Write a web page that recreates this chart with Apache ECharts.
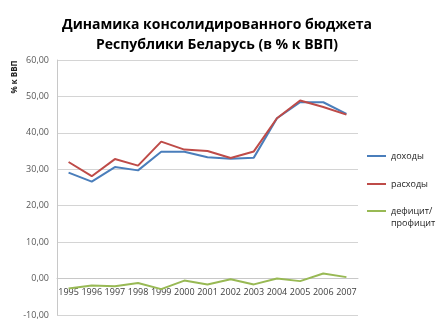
<!DOCTYPE html>
<html><head><meta charset="utf-8">
<script src="https://cdn.jsdelivr.net/npm/echarts@6/dist/echarts.min.js"></script>
<style>html,body{margin:0;padding:0;background:#fff}#c{width:441px;height:326px}</style>
</head><body><div id="c"></div>
<script>
const years = ['1995','1996','1997','1998','1999','2000','2001','2002','2003','2004','2005','2006','2007'];
const revenue = [29.1,26.6,30.6,29.7,34.8,34.8,33.3,32.9,33.2,44.0,48.4,48.4,45.2];
const expenses = [32.0,28.1,32.8,31.0,37.6,35.4,35.0,33.1,34.9,44.0,48.9,47.1,45.0];
const balance = [-2.75,-1.9,-2.1,-1.2,-2.9,-0.55,-1.6,-0.2,-1.6,0.0,-0.7,1.4,0.4];
const yTicks = [-10,0,10,20,30,40,50,60];
const seriesNames = ['доходы','расходы','дефицит/профицит'];

const font = 'Open Sans';
const H = 326, gridTop = 60, gridBottom = 11;
const yMin = yTicks[0], yMax = yTicks[yTicks.length-1];
const plotH = H - gridTop - gridBottom;
const zeroOffset = -plotH * (0 - yMin) / (yMax - yMin);

const chart = echarts.init(document.getElementById('c'), null, {renderer:'canvas'});
chart.setOption({
  animation:false,
  backgroundColor:'#fff',
  title:{
    text:'Динамика консолидированного бюджета\nРеспублики Беларусь (в % к ВВП)',
    left:212, top:10, textAlign:'center',
    textStyle:{fontFamily:font, fontSize:14, fontWeight:'bold', color:'#000', lineHeight:20}
  },
  graphic:[{
    type:'text', x:15, y:77, rotation:Math.PI/2,
    style:{text:'% к ВВП', fontFamily:font, fontSize:8, fontWeight:'bold', fill:'#222', align:'center', verticalAlign:'middle'}
  }],
  legend:[{
    data:[seriesNames[0], seriesNames[1]], orient:'vertical', left:362, top:145,
    itemWidth:19, itemHeight:2, icon:'rect', itemGap:16,
    textStyle:{fontFamily:font, fontSize:9, color:'#222', lineHeight:12}
  },{
    data:[seriesNames[2]], orient:'vertical', left:362, top:188,
    itemWidth:19, itemHeight:2, icon:'rect',
    formatter: () => ' \nдефицит/\nпрофицит',
    textStyle:{fontFamily:font, fontSize:9, color:'#222', lineHeight:12}
  }],
  grid:{left:57, right:83, top:gridTop, bottom:gridBottom, containLabel:false},
  xAxis:{
    type:'category', data:years, boundaryGap:true, position:'bottom', offset:zeroOffset,
    axisLine:{lineStyle:{color:'#c8c8c8', width:1}},
    axisTick:{show:false},
    axisLabel:{interval:0, fontFamily:font, fontSize:9, color:'#404040', margin:9}
  },
  yAxis:{
    type:'value', min:yMin, max:yMax, interval:10,
    axisLine:{show:true, lineStyle:{color:'#c8c8c8'}},
    axisTick:{show:false},
    splitLine:{lineStyle:{color:'#d4d4d4'}},
    axisLabel:{fontFamily:font, fontSize:9, color:'#595959', margin:8,
      formatter: v => v.toFixed(2).replace('.', ',')}
  },
  series:[
    {name:seriesNames[0], type:'line', data:revenue, symbol:'none', color:'#4a7ebb', lineStyle:{width:2}},
    {name:seriesNames[1], type:'line', data:expenses, symbol:'none', color:'#be4b48', lineStyle:{width:2}},
    {name:seriesNames[2], type:'line', data:balance, symbol:'none', color:'#98b954', lineStyle:{width:2}}
  ]
});
</script></body></html>
